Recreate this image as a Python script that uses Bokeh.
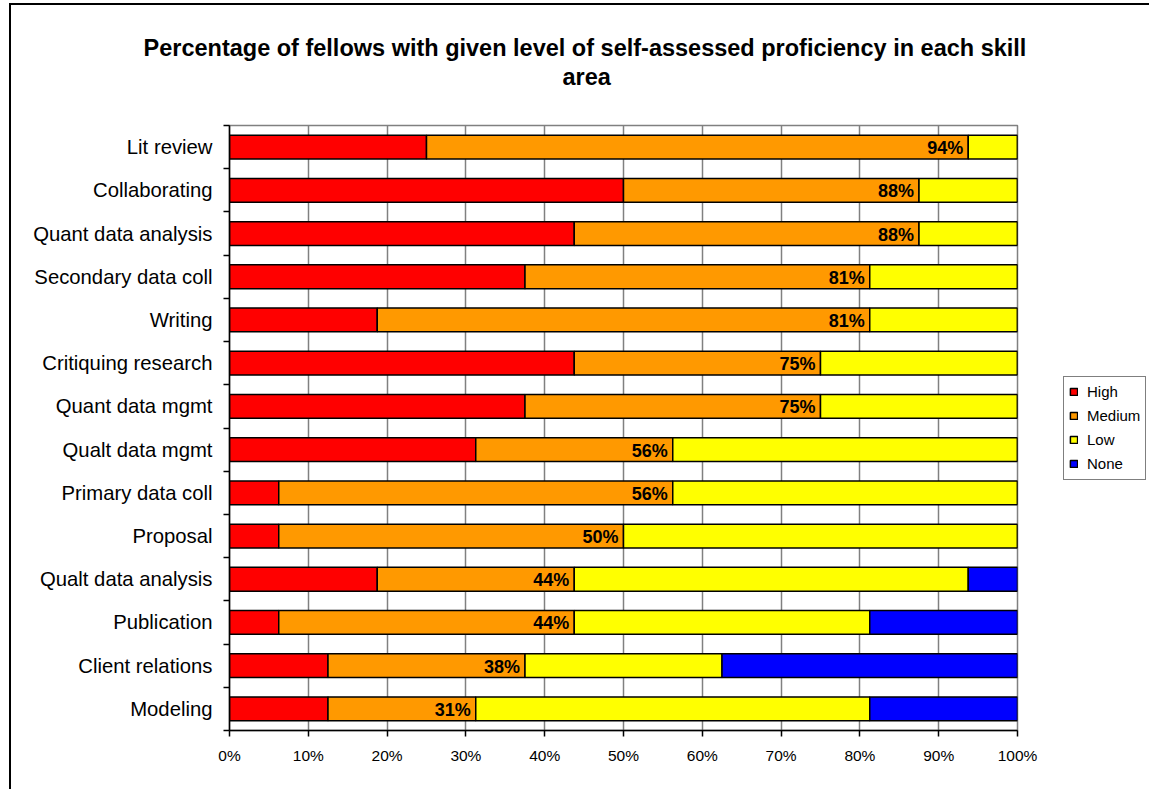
from bokeh.plotting import figure
from bokeh.models import ColumnDataSource, FixedTicker, Range1d, Title, Legend, LegendItem
from bokeh.core.properties import value
from bokeh.embed import file_html
from bokeh.resources import INLINE

FONT = "Liberation Sans"

skills = ["Lit review", "Collaborating", "Quant data analysis", "Secondary data coll",
          "Writing", "Critiquing research", "Quant data mgmt", "Qualt data mgmt",
          "Primary data coll", "Proposal", "Qualt data analysis", "Publication",
          "Client relations", "Modeling"]
high = [25.0, 50.0, 43.75, 37.5, 18.75, 43.75, 37.5, 31.25, 6.25, 6.25, 18.75, 6.25, 12.5, 12.5]
medium = [68.75, 37.5, 43.75, 43.75, 62.5, 31.25, 37.5, 25.0, 50.0, 43.75, 25.0, 37.5, 25.0, 18.75]
low = [6.25, 12.5, 12.5, 18.75, 18.75, 25.0, 25.0, 43.75, 43.75, 50.0, 50.0, 37.5, 25.0, 50.0]
none = [0, 0, 0, 0, 0, 0, 0, 0, 0, 0, 6.25, 18.75, 37.5, 18.75]
levels = ["High", "Medium", "Low", "None"]
colors = ["#FF0000", "#FF9900", "#FFFF00", "#0000FF"]
x_ticks = [0, 10, 20, 30, 40, 50, 60, 70, 80, 90, 100]
title_lines = ["Percentage of fellows with given level of self-assessed proficiency in each skill",
               "area"]

n = len(skills)
ypos = [n - i - 0.5 for i in range(n)]
boundaries = [float(i) for i in range(n + 1)]

p = figure(frame_width=788, frame_height=605, output_backend="svg", toolbar_location=None,
           x_range=Range1d(0, 100), y_range=Range1d(0, n),
           min_border_left=218, min_border_right=132, min_border_top=120, min_border_bottom=59)
p.styles = {"margin-left": "9px", "margin-top": "3px",
            "border-left": "2px solid #000000", "border-top": "2px solid #000000"}
p.background_fill_color = "white"
p.border_fill_color = "white"
p.outline_line_color = "#808080"
p.outline_line_width = 1.5

# stacked segments
series = [high, medium, low, none]
left = [0.0] * n
items = []
for name, vals, col in zip(levels, series, colors):
    right = [a + b for a, b in zip(left, vals)]
    src = ColumnDataSource(dict(y=ypos, left=left, right=right))
    r = p.hbar(y="y", left="left", right="right", height=0.55, source=src,
               fill_color=col, line_color="black", line_width=1.5)
    items.append(LegendItem(label=name, renderers=[r]))
    left = right

# cumulative High+Medium labels
cum = [h + m for h, m in zip(high, medium)]
lab_src = ColumnDataSource(dict(x=cum, y=ypos, t=[f"{v:.0f}%" for v in cum]))
p.text(x="x", y="y", text="t", source=lab_src, text_align="right", text_baseline="middle",
       x_offset=-5, y_offset=1, text_font=value(FONT), text_font_size="18px",
       text_font_style="bold", text_color="black")

# axes
p.xgrid.ticker = FixedTicker(ticks=x_ticks)
p.xgrid.grid_line_color = "#808080"
p.xgrid.grid_line_width = 1.5
p.ygrid.grid_line_color = None

xa = p.xaxis[0]
xa.ticker = FixedTicker(ticks=x_ticks)
xa.major_label_overrides = {t: f"{t}%" for t in x_ticks}
xa.axis_line_color = "black"
xa.axis_line_width = 1.5
xa.major_tick_line_width = 1.5
xa.major_tick_out = 6
xa.major_tick_in = 0
xa.minor_tick_line_color = None
xa.major_label_standoff = 10
xa.major_label_text_font = FONT
xa.major_label_text_font_size = "15.5px"
xa.major_label_text_color = "black"

ya = p.yaxis[0]
ya.ticker = FixedTicker(ticks=ypos, minor_ticks=boundaries)
ya.major_label_overrides = {y: s for y, s in zip(ypos, skills)}
ya.axis_line_color = "black"
ya.axis_line_width = 1.5
ya.major_tick_line_color = None
ya.major_tick_out = 0
ya.major_tick_in = 0
ya.minor_tick_line_color = "black"
ya.minor_tick_line_width = 1.5
ya.minor_tick_out = 6
ya.minor_tick_in = 0
ya.major_label_standoff = 11
ya.major_label_text_font = FONT
ya.major_label_text_font_size = "20.3px"
ya.major_label_text_color = "black"

# title block: an empty spacer next to the frame, then the two title lines
p.add_layout(Title(text=" ", text_font_size="10px", standoff=22), "above")
p.add_layout(Title(text=title_lines[1], align="left", offset=333, standoff=1,
                   text_font=FONT, text_font_size="23.5px", text_font_style="bold",
                   text_color="black"), "above")
p.add_layout(Title(text=title_lines[0], align="left", offset=-86, standoff=1,
                   text_font=FONT, text_font_size="23.5px", text_font_style="bold",
                   text_color="black"), "above")

legend = Legend(items=items, location="center_left", margin=46, padding=5, spacing=4,
                glyph_width=9, glyph_height=9, label_height=20, label_standoff=9,
                label_text_font=FONT, label_text_font_size="15px", label_text_color="black",
                border_line_color="black", border_line_width=1,
                background_fill_color="white", background_fill_alpha=1)
p.add_layout(legend, "right")

open("out.html", "w").write(file_html(p, INLINE))
